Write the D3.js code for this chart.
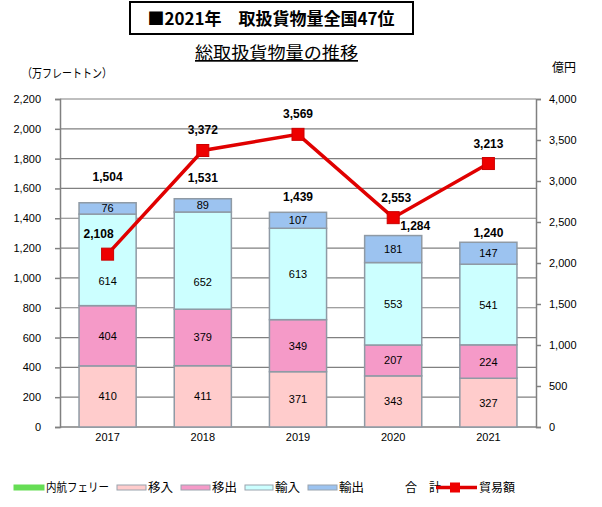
<!DOCTYPE html>
<html><head><meta charset="utf-8">
<script src="https://cdn.jsdelivr.net/npm/d3@7"></script>
<style>body{margin:0;background:#fff}svg{display:block}</style>
</head><body>
<svg id="c" width="602" height="507"></svg>
<script>
const years = ["2017","2018","2019","2020","2021"];
const ferry = [0,0,0,0,0];
const inbound = [410,411,371,343,327];    // 移入
const outbound = [404,379,349,207,224];   // 移出
const imports = [614,652,613,553,541];    // 輸入
const exports_ = [76,89,107,181,147];     // 輸出
const totals = [1504,1531,1439,1284,1240];
const trade = [2108,3372,3569,2553,3213]; // 貿易額 (億円)
const leftTicks = d3.range(0,2201,200);
const rightTicks = d3.range(0,4001,500);
// label nudges (layout only)
const totalDx = [0,0,0,22,0];
const totalDy = [-22,-17,-11,-6,-5];
const tradeDx = [-9,0,0,3,0];
const importLabelDy = [21,21,0,0,0];

const series = [
  {name:"内航フェリー", vals:ferry, color:"#66dd55", tw:63},
  {name:"移入", vals:inbound, color:"#ffcccc", tw:25},
  {name:"移出", vals:outbound, color:"#f59ac8", tw:25},
  {name:"輸入", vals:imports, color:"#ccffff", tw:25},
  {name:"輸出", vals:exports_, color:"#9cc3f0", tw:25}
];

const svg = d3.select("#c");
const JP = "'Noto Sans CJK JP', sans-serif";
const NUM = "'Liberation Sans', Arial, sans-serif";
const L = 60, R = 536, T = 99, B = 427;

const x = d3.scaleBand().domain(years).range([L,R]).paddingInner(0.4).paddingOuter(0.2);
const y = d3.scaleLinear().domain([0,2200]).range([B,T]);
const y2 = d3.scaleLinear().domain([0,4000]).range([B,T]);

// title box
svg.append("rect").attr("x",130).attr("y",2).attr("width",283).attr("height",32)
  .attr("fill","#fff").attr("stroke","#000").attr("stroke-width",2);
svg.append("text").attr("x",271).attr("y",25).attr("text-anchor","middle")
  .attr("font-family",JP).attr("font-weight","bold").attr("font-size",17)
  .text("■2021年　取扱貨物量全国47位");
svg.append("text").attr("x",195).attr("y",59)
  .attr("font-family",JP).attr("font-size",17).attr("text-decoration","underline")
  .attr("textLength",163).attr("lengthAdjust","spacingAndGlyphs")
  .text("総取扱貨物量の推移");
svg.append("text").attr("x",22).attr("y",78).attr("font-family",JP).attr("font-size",12)
  .attr("textLength",90).attr("lengthAdjust","spacingAndGlyphs")
  .text("（万フレートトン）");
svg.append("text").attr("x",552).attr("y",72).attr("font-family",JP).attr("font-size",12)
  .text("億円");

// gridlines
svg.append("g").selectAll("line").data(leftTicks.filter(d=>d>0)).join("line")
  .attr("x1",L).attr("x2",R).attr("y1",d=>y(d)).attr("y2",d=>y(d))
  .attr("stroke","#808080").attr("stroke-width",1.2);

// axes
const ax = svg.append("g").attr("transform",`translate(${L},0)`)
  .call(d3.axisLeft(y).tickValues(leftTicks).tickSize(5).tickPadding(14).tickFormat(d3.format(",")));
const ax2 = svg.append("g").attr("transform",`translate(${R},0)`)
  .call(d3.axisRight(y2).tickValues(rightTicks).tickSize(5).tickPadding(8).tickFormat(d3.format(",")));
const axb = svg.append("g").attr("transform",`translate(0,${B})`)
  .call(d3.axisBottom(x).tickSize(0).tickPadding(6));
[ax,ax2,axb].forEach(g=>{
  g.selectAll("path").attr("stroke","#808080").attr("stroke-width",1.5);
  g.selectAll("line").attr("stroke","#808080").attr("stroke-width",1.5);
  g.selectAll("text").attr("font-family",NUM).attr("font-size",11).attr("fill","#000");
});
axb.select("path").attr("d",`M${L},0H${R}`);

// stacked bars
const stack = [];
years.forEach((yr,i)=>{
  let base = 0;
  series.forEach((s,k)=>{
    const v = s.vals[i];
    stack.push({yr, i, k, s, v, y0:base, y1:base+v});
    base += v;
  });
});
const bars = svg.append("g");
bars.selectAll("rect").data(stack.filter(d=>d.v>0)).join("rect")
  .attr("x",d=>x(d.yr)).attr("width",x.bandwidth())
  .attr("y",d=>y(d.y1)).attr("height",d=>y(d.y0)-y(d.y1))
  .attr("fill",d=>d.s.color).attr("stroke","#8f9aa5").attr("stroke-width",1.5);
bars.selectAll("text").data(stack.filter(d=>d.v>0)).join("text")
  .attr("x",d=>x(d.yr)+x.bandwidth()/2)
  .attr("y",d=>(y(d.y0)+y(d.y1))/2+4+(d.k===3?importLabelDy[d.i]:0))
  .attr("text-anchor","middle").attr("font-family",NUM).attr("font-size",11)
  .text(d=>d3.format(",")(d.v));

// totals
svg.append("g").selectAll("text").data(totals).join("text")
  .attr("x",(d,i)=>x(years[i])+x.bandwidth()/2+totalDx[i])
  .attr("y",(d,i)=>y(d3.sum(series,s=>s.vals[i]))+totalDy[i])
  .attr("text-anchor","middle").attr("font-family",NUM).attr("font-size",12).attr("font-weight","bold")
  .text(d=>d3.format(",")(d));

// trade line
const line = d3.line().x((d,i)=>x(years[i])+x.bandwidth()/2).y(d=>y2(d));
svg.append("path").datum(trade).attr("d",line).attr("fill","none")
  .attr("stroke","#e00000").attr("stroke-width",3.5);
svg.append("g").selectAll("rect").data(trade).join("rect")
  .attr("x",(d,i)=>x(years[i])+x.bandwidth()/2-6).attr("y",d=>y2(d)-6)
  .attr("width",12).attr("height",12).attr("fill","#ee0000").attr("stroke","#cc0000");
svg.append("g").selectAll("text").data(trade).join("text")
  .attr("x",(d,i)=>x(years[i])+x.bandwidth()/2+tradeDx[i]).attr("y",d=>y2(d)-16)
  .attr("text-anchor","middle").attr("font-family",NUM).attr("font-size",12).attr("font-weight","bold")
  .text(d=>d3.format(",")(d));

// legend
const lg = svg.append("g").attr("font-family",JP).attr("font-size",12);
const legX = [14,117,181,245,308];
const legW = [30,29,29,28,29];
series.forEach((s,k)=>{
  lg.append("rect").attr("x",legX[k]).attr("y",485).attr("width",legW[k]).attr("height",5)
    .attr("fill",s.color).attr("stroke",k===0?s.color:"#9aa4ae").attr("stroke-width",1);
  lg.append("text").attr("x",legX[k]+legW[k]+2).attr("y",492)
    .attr("textLength",s.tw).attr("lengthAdjust","spacingAndGlyphs").text(s.name);
});
lg.append("text").attr("x",405).attr("y",492).text("合　計");
lg.append("line").attr("x1",436).attr("x2",477).attr("y1",487.5).attr("y2",487.5)
  .attr("stroke","#e00000").attr("stroke-width",3.5);
lg.append("rect").attr("x",450).attr("y",482.5).attr("width",10).attr("height",10).attr("fill","#ee0000");
lg.append("text").attr("x",479).attr("y",492).attr("textLength",36).attr("lengthAdjust","spacingAndGlyphs").text("貿易額");
</script>
</body></html>
